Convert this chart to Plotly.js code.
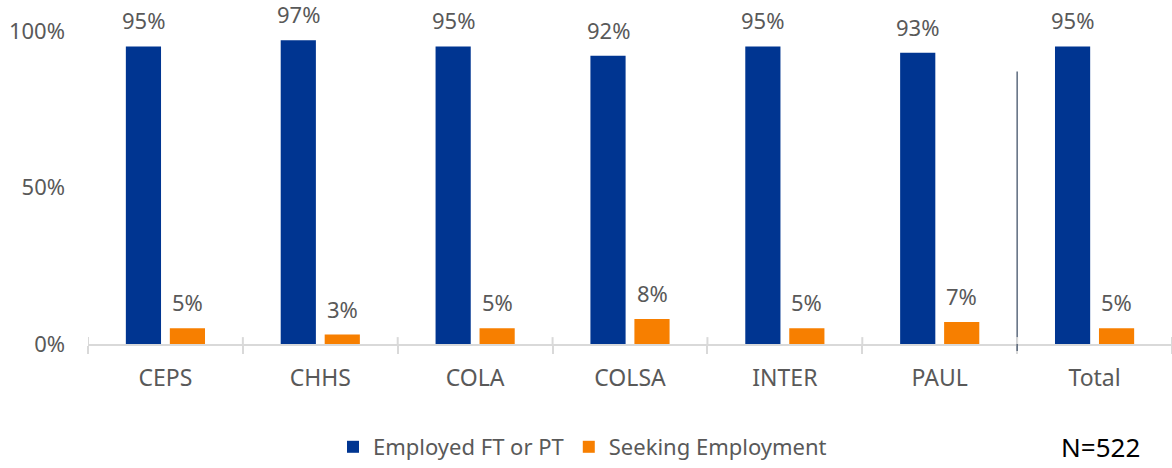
<!DOCTYPE html>
<html><head><meta charset="utf-8">
<script src="https://cdn.plot.ly/plotly-3.0.1.min.js"></script>
<style>html,body{margin:0;padding:0;background:#fff}#chart{width:1172px;height:468px}</style>
</head><body><div id="chart"></div>
<script>
const categories = ["CEPS","CHHS","COLA","COLSA","INTER","PAUL","Total"];
const employed = [0.95,0.97,0.95,0.92,0.95,0.93,0.95];
const seeking = [0.05,0.03,0.05,0.08,0.05,0.07,0.05];
const seriesNames = ["Employed FT or PT","Seeking Employment"];
const colors = ["#003591","#f77f00"];
const noteText = "N=522";

const font = "Noto Sans, Open Sans, sans-serif";
const gray = "#595959";

const traces = [
  {type:"bar", x:categories, y:employed, name:seriesNames[0], marker:{color:colors[0]}, hoverinfo:"none"},
  {type:"bar", x:categories, y:seeking, name:seriesNames[1], marker:{color:colors[1]}, hoverinfo:"none"}
];

const annotations = [];
[employed, seeking].forEach((vals, s) => {
  vals.forEach((v, i) => {
    annotations.push({x:categories[i], y:v, xref:"x", yref:"y", text:Math.round(v*100)+"%",
      showarrow:false, yanchor:"bottom", xshift: s===0 ? -22 : 22, yshift: 9,
      font:{family:font, size:22, color:gray}});
  });
});
annotations.push({x:0.934, y:-0.30, xref:"paper", yref:"paper", text:noteText, showarrow:false,
  xanchor:"center", yanchor:"middle", font:{family:font, size:26, color:"#000"}});

const shapes = [{type:"line", xref:"x", yref:"paper", x0:5.5, x1:5.5, y0:-0.02, y1:0.792,
  line:{color:"#44546a", width:1.3}}];
for (let i = 0; i <= categories.length; i++) {
  shapes.push({type:"line", xref:"x", yref:"paper", x0:i-0.5, x1:i-0.5, y0:0, y1:0.02,
    line:{color:"#d9d9d9", width:2}});
}

const layout = {
  width:1172, height:468,
  margin:{l:88, r:0, t:0, b:122},
  paper_bgcolor:"#fff", plot_bgcolor:"#fff",
  barmode:"group", bargap:0.432, bargroupgap:0.2,
  font:{family:font, color:gray},
  xaxis:{type:"category", showgrid:false, showline:true, linecolor:"#d9d9d9", linewidth:2,
    ticks:"outside", ticklen:8, tickwidth:2, tickcolor:"#d9d9d9", tickson:"boundaries",
    tickfont:{family:font, size:23, color:gray}, ticklabelstandoff:12, zeroline:false,
    range:[-0.5, 6.5]},
  yaxis:{range:[0,1.0984], tickvals:[0,0.5,1], tickformat:".0%", showgrid:false, zeroline:false,
    showline:false, tickfont:{family:font, size:22, color:gray}, ticklabelstandoff:22},
  showlegend:true,
  legend:{orientation:"h", x:0.226, xanchor:"left", y:-0.30, yanchor:"middle",
    font:{family:font, size:22, color:gray}, itemclick:false, traceorder:"normal"},
  annotations:annotations, shapes:shapes
};

Plotly.newPlot("chart", traces, layout, {staticPlot:true});
</script></body></html>
